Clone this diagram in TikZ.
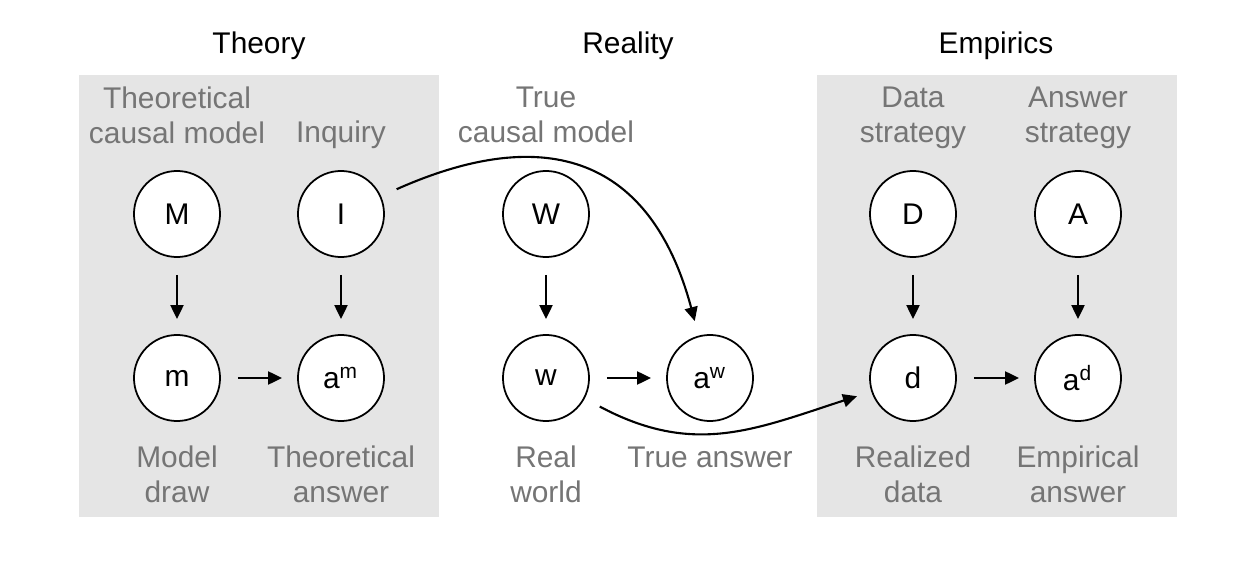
\documentclass[tikz,border=0pt]{standalone}
\usepackage{fontspec}
\setmainfont{Liberation Sans}
\usepackage{xcolor}
\usetikzlibrary{arrows.meta}
\definecolor{boxgray}{HTML}{E5E5E5}
\definecolor{labelgray}{HTML}{757575}

\begin{document}
\begin{tikzpicture}[x=0.01cm, y=-0.01cm,
    var/.style={draw, circle, fill=white, line width=0.5pt, minimum size=0.86cm, inner sep=0pt, font=\fontsize{8.5}{10}\selectfont},
    lbl/.style={text=labelgray, align=center, font=\fontsize{8.5}{10}\selectfont},
    head/.style={align=center, font=\fontsize{8.5}{10}\selectfont},
    link/.style={-{Triangle[length=0.14cm, width=0.13cm]}, line width=0.6pt, shorten <=0.17cm, shorten >=0.15cm}]
    \useasboundingbox (0,0) rectangle (1248,576);

    % Draw the shaded panels
    \fill[boxgray] (79,75) rectangle (439,517);
    \fill[boxgray] (817,75) rectangle (1177,517);

    % Add headings
    \node[head] (theory) at (259,46) {Theory};
    \node[head] (reality) at (628,46) {Reality};
    \node[head] (empirics) at (996,46) {Empirics};

    % Add labels above the nodes
    \node[lbl] at (177,115) {Theoretical\\causal model};
    \node[lbl] at (341,135) {Inquiry};
    \node[lbl] at (546,115) {True\\causal model};
    \node[lbl] at (913,118) {Data\\strategy};
    \node[lbl] at (1078,118) {Answer\\strategy};

    % Draw the nodes
    \node[var] (M) at (177,214) {M};
    \node[var] (I) at (341,214) {I};
    \node[var] (W) at (546,214) {W};
    \node[var] (D) at (913,214) {D};
    \node[var] (A) at (1078,214) {A};
    \node[var] (m) at (177,378) {m};
    \node[var] (am) at (341,378) {a\textsuperscript{m}};
    \node[var] (w) at (546,378) {w};
    \node[var] (aw) at (710,378) {a\textsuperscript{w}};
    \node[var] (d) at (913,378) {d};
    \node[var] (ad) at (1078,378) {a\textsuperscript{d}};

    % Add labels below the nodes
    \node[lbl] at (177,474) {Model\\draw};
    \node[lbl] at (341,474) {Theoretical\\answer};
    \node[lbl] at (546,474) {Real\\world};
    \node[lbl] at (710,457) {True answer};
    \node[lbl] at (913,474) {Realized\\data};
    \node[lbl] at (1078,474) {Empirical\\answer};

    % Draw arrows
    \draw[link] (M) -- (m);
    \draw[link] (I) -- (am);
    \draw[link] (W) -- (w);
    \draw[link] (D) -- (d);
    \draw[link] (A) -- (ad);
    \draw[link] (m) -- (am);
    \draw[link] (w) -- (aw);
    \draw[link] (d) -- (ad);
    \draw[link] (I) to[out=24, in=105, looseness=1.35] (aw);
    \draw[link] (w) to[out=-28, in=198, looseness=1.1] (d);
  \end{tikzpicture}
\end{document}
